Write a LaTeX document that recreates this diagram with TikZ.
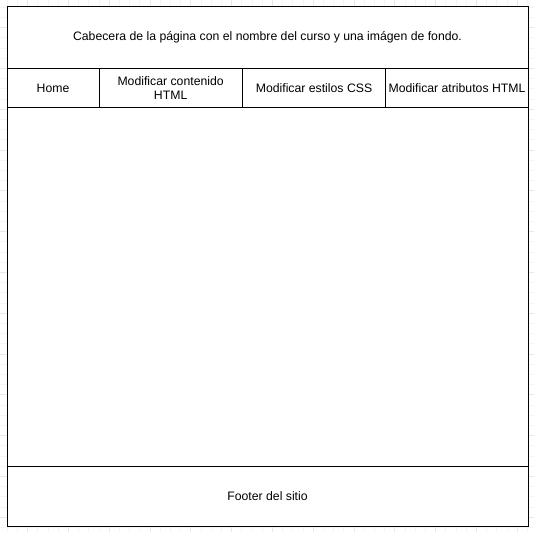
\documentclass[tikz,border=0pt]{standalone}
\usepackage{fontspec}
\setmainfont{Liberation Sans}
\usetikzlibrary{positioning}

\begin{document}
\begin{tikzpicture}[x=1pt, y=-1pt,
    every node/.style={inner sep=0pt, outer sep=0pt, font=\fontsize{12.25}{14}\selectfont},
    caja/.style={draw, line width=1pt, fill=white, anchor=north west, align=center}]
  \useasboundingbox (0,0) rectangle (534,532);
  % Rejilla de fondo
  \foreach \k in {-1,...,52} {
      \draw[gray!8, line width=0.5pt] (7+10.2*\k,0) -- (7+10.2*\k,532);
      \draw[gray!8, line width=0.5pt] (0,7+10.2*\k) -- (534,7+10.2*\k);
  }
  \foreach \k in {-1,...,13} {
      \draw[gray!18, line width=0.6pt] (27.4+40.8*\k,0) -- (27.4+40.8*\k,532);
      \draw[gray!18, line width=0.6pt] (0,27.4+40.8*\k) -- (534,27.4+40.8*\k);
  }

  % Cabecera
  \node[caja, minimum width=521pt, minimum height=61.3pt] (cabecera) at (7,7)
      {Cabecera de la página con el nombre del curso y una imágen de fondo.};

  % Menu
  \node[caja, minimum width=92pt, minimum height=39.4pt] (home) at (7,68.3) {Home};
  \node[caja, minimum width=143.3pt, minimum height=39.4pt] (html) at (99,68.3)
      {Modificar contenido\\HTML};
  \node[caja, minimum width=143.4pt, minimum height=39.4pt] (css) at (242.3,68.3)
      {Modificar estilos CSS};
  \node[caja, minimum width=142.6pt, minimum height=39.4pt] (atributos) at (385.7,68.3)
      {Modificar atributos HTML};

  % Contenido
  \node[caja, minimum width=521pt, minimum height=358.3pt] (contenido) at (7,107.7) {};

  % Footer
  \node[caja, minimum width=521pt, minimum height=60.5pt] (footer) at (7,466)
      {Footer del sitio};
\end{tikzpicture}
\end{document}
